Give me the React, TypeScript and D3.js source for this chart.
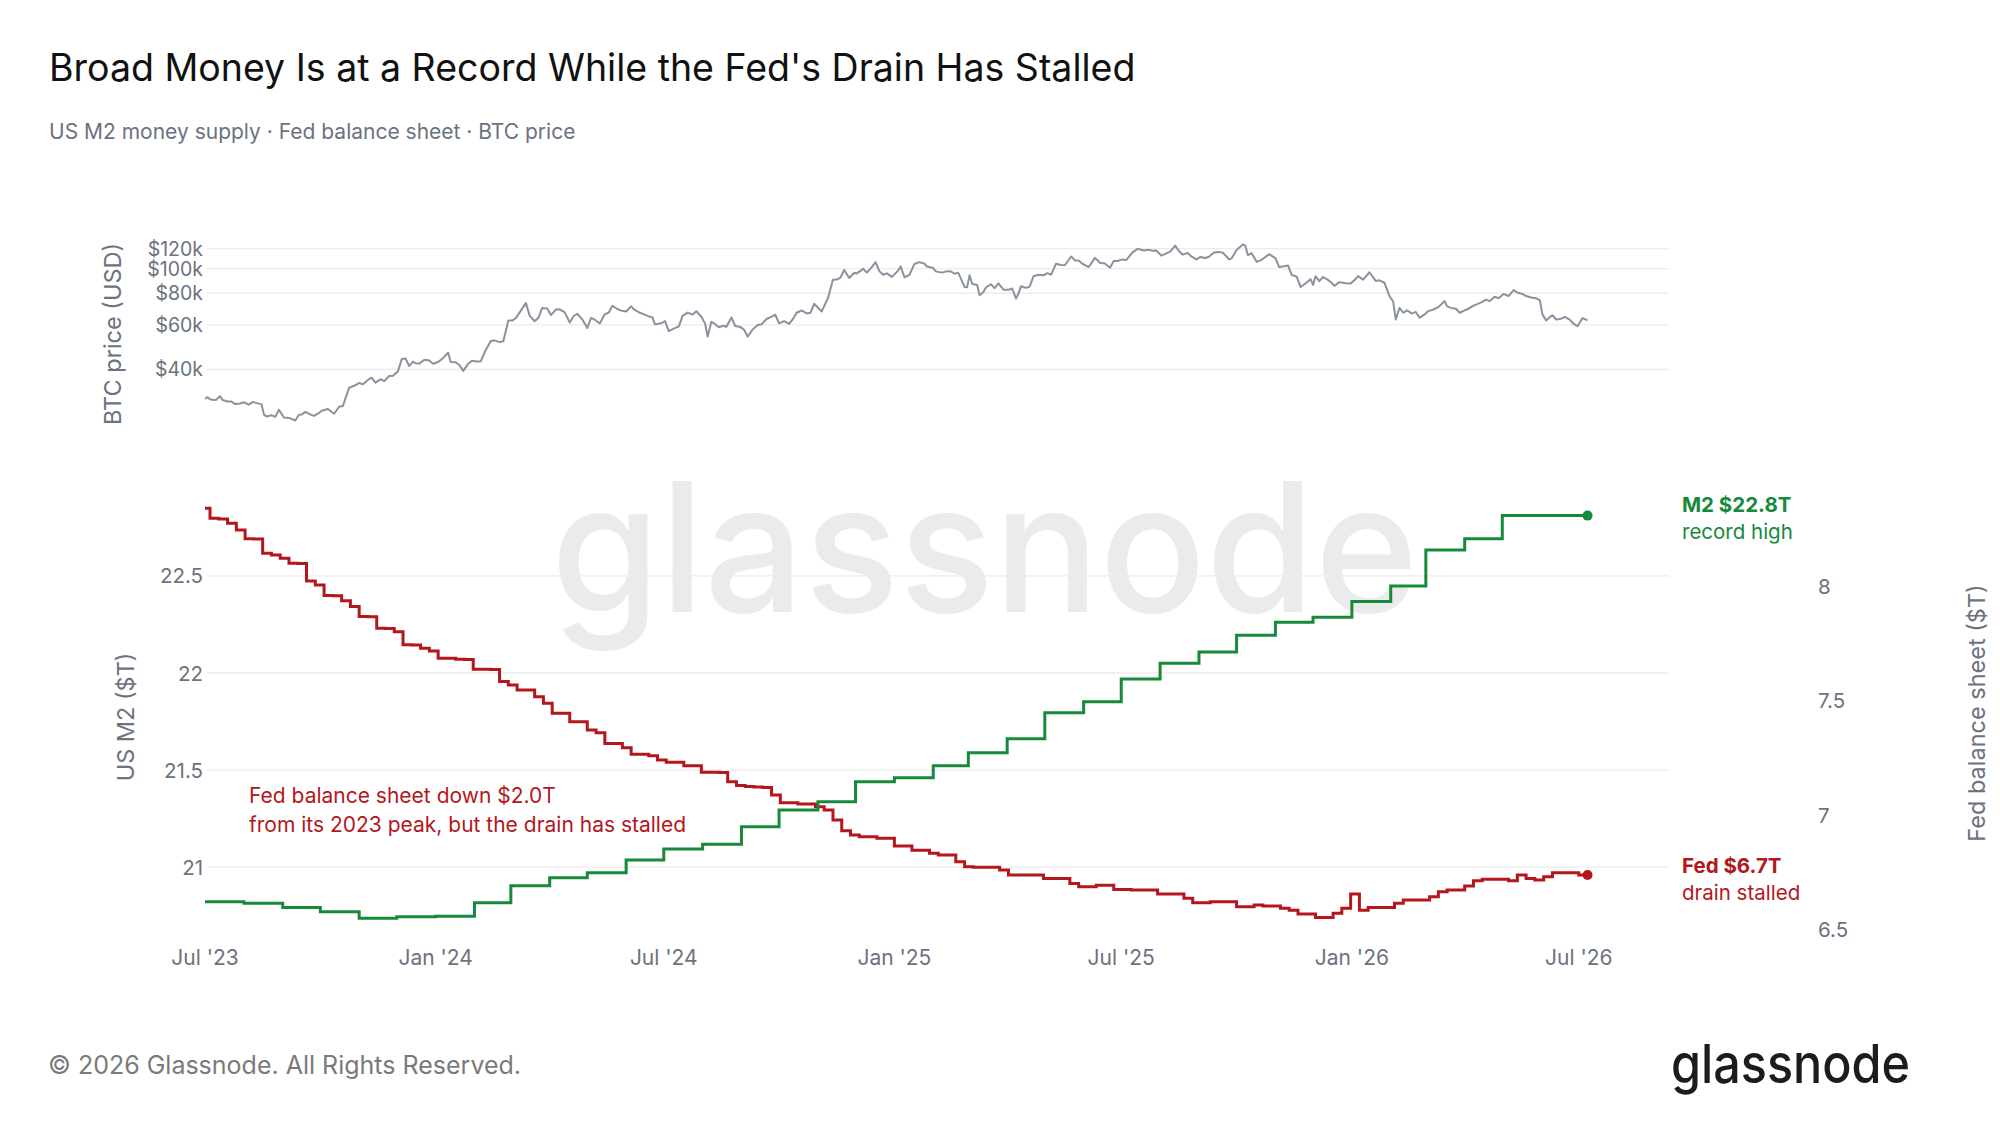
import React from "react";
import * as d3 from "d3";

// ---------- DATA ----------
const btcTicks = [40000, 60000, 80000, 100000, 120000];
const m2Ticks = [21, 21.5, 22, 22.5];
const fedTicks = [6.5, 7, 7.5, 8];
const xTickDates = ["2023-07-01", "2024-01-01", "2024-07-01", "2025-01-01", "2025-07-01", "2026-01-01", "2026-07-01"];

const domainStart = "2023-07-01";
const domainEnd = "2026-09-11";
const endDate = "2026-07-08";

// US M2 ($T), monthly from Jul 2023
const m2Start = "2023-07-01";
const m2Values = [
  20.821, 20.813, 20.792, 20.77, 20.736, 20.744,
  20.746, 20.816, 20.904, 20.945, 20.971, 21.036,
  21.093, 21.118, 21.208, 21.294, 21.337, 21.44,
  21.46, 21.522, 21.589, 21.661, 21.795, 21.852,
  21.969, 22.05, 22.108, 22.194, 22.261, 22.287,
  22.368, 22.448, 22.634, 22.692, 22.811, 22.811,
];

// Fed balance sheet ($T), weekly from 2023-06-28
const fedStart = "2023-06-28";
const fedValues = [
  8.345, 8.301, 8.298, 8.279, 8.25, 8.211, 8.21, 8.148, 8.14, 8.126,
  8.104, 8.103, 8.026, 8.009, 7.962, 7.961, 7.939, 7.914, 7.87, 7.869,
  7.819, 7.818, 7.804, 7.746, 7.745, 7.731, 7.719, 7.687, 7.687, 7.683,
  7.682, 7.639, 7.639, 7.638, 7.585, 7.57, 7.548, 7.548, 7.519, 7.49,
  7.446, 7.446, 7.409, 7.409, 7.373, 7.361, 7.314, 7.314, 7.295, 7.266,
  7.266, 7.26, 7.241, 7.231, 7.231, 7.216, 7.216, 7.187, 7.187, 7.186,
  7.146, 7.129, 7.125, 7.123, 7.121, 7.088, 7.054, 7.054, 7.048, 7.048,
  7.036, 7.022, 6.978, 6.931, 6.912, 6.905, 6.905, 6.898, 6.898, 6.864,
  6.864, 6.846, 6.846, 6.832, 6.825, 6.825, 6.795, 6.773, 6.771, 6.771,
  6.771, 6.759, 6.737, 6.737, 6.737, 6.737, 6.722, 6.722, 6.722, 6.7,
  6.686, 6.686, 6.692, 6.692, 6.674, 6.674, 6.671, 6.671, 6.671, 6.654,
  6.654, 6.654, 6.635, 6.615, 6.615, 6.62, 6.62, 6.62, 6.598, 6.598,
  6.605, 6.601, 6.601, 6.591, 6.583, 6.566, 6.566, 6.551, 6.551, 6.569,
  6.591, 6.654, 6.583, 6.595, 6.595, 6.595, 6.613, 6.627, 6.627, 6.627,
  6.642, 6.664, 6.671, 6.671, 6.689, 6.712, 6.718, 6.718, 6.718, 6.712,
  6.737, 6.722, 6.715, 6.729, 6.747, 6.747, 6.747, 6.737,
];

// BTC price (USD)
const btcSeries: [string, number][] = [
  ["2023-07-01", 30600], ["2023-07-03", 31100], ["2023-07-05", 30500], ["2023-07-08", 30290],
  ["2023-07-10", 30400], ["2023-07-13", 31400], ["2023-07-15", 30300], ["2023-07-19", 29900],
  ["2023-07-22", 29900], ["2023-07-25", 29200], ["2023-07-29", 29350], ["2023-08-01", 29700],
  ["2023-08-05", 29050], ["2023-08-08", 29800], ["2023-08-12", 29400], ["2023-08-15", 29200],
  ["2023-08-17", 26600], ["2023-08-19", 26100], ["2023-08-23", 26400], ["2023-08-26", 26000],
  ["2023-08-29", 27700], ["2023-09-02", 25850], ["2023-09-06", 25750], ["2023-09-11", 25150],
  ["2023-09-14", 26500], ["2023-09-16", 26550], ["2023-09-19", 27200], ["2023-09-23", 26580],
  ["2023-09-26", 26250], ["2023-09-30", 26960], ["2023-10-02", 27500], ["2023-10-07", 27950],
  ["2023-10-12", 26750], ["2023-10-16", 28500], ["2023-10-19", 28700], ["2023-10-24", 33900],
  ["2023-10-28", 34500], ["2023-11-01", 35400], ["2023-11-04", 35000], ["2023-11-09", 36700],
  ["2023-11-11", 37100], ["2023-11-14", 35500], ["2023-11-18", 36600], ["2023-11-21", 36000],
  ["2023-11-25", 37700], ["2023-11-28", 37800], ["2023-12-02", 39400], ["2023-12-05", 44000],
  ["2023-12-08", 44200], ["2023-12-11", 41300], ["2023-12-14", 43000], ["2023-12-16", 42300],
  ["2023-12-19", 42200], ["2023-12-23", 43700], ["2023-12-27", 43400], ["2023-12-30", 42150],
  ["2024-01-03", 42800], ["2024-01-06", 43950], ["2024-01-11", 46600], ["2024-01-13", 42850],
  ["2024-01-17", 42700], ["2024-01-20", 41650], ["2024-01-23", 39500], ["2024-01-27", 42120],
  ["2024-01-30", 43300], ["2024-02-03", 43000], ["2024-02-06", 43100], ["2024-02-10", 47800],
  ["2024-02-14", 51800], ["2024-02-17", 52100], ["2024-02-21", 51300], ["2024-02-24", 51700],
  ["2024-02-28", 62500], ["2024-03-02", 62400], ["2024-03-05", 63800], ["2024-03-09", 68300],
  ["2024-03-13", 73100], ["2024-03-16", 65300], ["2024-03-20", 62000], ["2024-03-23", 64000],
  ["2024-03-26", 70000], ["2024-03-30", 69700], ["2024-04-02", 65600], ["2024-04-06", 69000],
  ["2024-04-09", 69100], ["2024-04-13", 67200], ["2024-04-17", 61300], ["2024-04-20", 64900],
  ["2024-04-23", 66400], ["2024-04-27", 63100], ["2024-05-01", 58300], ["2024-05-04", 63900],
  ["2024-05-07", 62900], ["2024-05-11", 60800], ["2024-05-15", 66200], ["2024-05-18", 67000],
  ["2024-05-21", 71400], ["2024-05-25", 69300], ["2024-05-28", 68300], ["2024-06-01", 67800],
  ["2024-06-05", 71000], ["2024-06-07", 69300], ["2024-06-11", 67300], ["2024-06-15", 66200],
  ["2024-06-18", 65100], ["2024-06-22", 64200], ["2024-06-24", 60300], ["2024-06-29", 60900],
  ["2024-07-02", 62100], ["2024-07-05", 56700], ["2024-07-09", 58000], ["2024-07-13", 59200],
  ["2024-07-16", 65100], ["2024-07-20", 67100], ["2024-07-24", 65900], ["2024-07-27", 67900],
  ["2024-07-31", 64600], ["2024-08-03", 60700], ["2024-08-05", 54000], ["2024-08-08", 61700],
  ["2024-08-10", 60900], ["2024-08-14", 58700], ["2024-08-17", 59500], ["2024-08-20", 59000],
  ["2024-08-24", 64200], ["2024-08-27", 59400], ["2024-08-31", 58900], ["2024-09-03", 57500],
  ["2024-09-06", 53900], ["2024-09-10", 57600], ["2024-09-14", 60000], ["2024-09-17", 60300],
  ["2024-09-21", 63300], ["2024-09-24", 64300], ["2024-09-28", 65800], ["2024-10-01", 60800],
  ["2024-10-05", 62100], ["2024-10-09", 60600], ["2024-10-12", 63200], ["2024-10-15", 67000],
  ["2024-10-19", 68400], ["2024-10-23", 66600], ["2024-10-26", 67000], ["2024-10-29", 72700],
  ["2024-11-02", 69300], ["2024-11-04", 67800], ["2024-11-09", 76500], ["2024-11-13", 90400],
  ["2024-11-16", 90600], ["2024-11-19", 92300], ["2024-11-22", 98900], ["2024-11-26", 91900],
  ["2024-11-30", 96400], ["2024-12-02", 95800], ["2024-12-05", 98000], ["2024-12-07", 99900],
  ["2024-12-10", 96600], ["2024-12-14", 101400], ["2024-12-17", 106100], ["2024-12-20", 97800],
  ["2024-12-23", 94700], ["2024-12-26", 95800], ["2024-12-30", 92800], ["2025-01-04", 98300],
  ["2025-01-06", 102100], ["2025-01-09", 92500], ["2025-01-13", 94500], ["2025-01-17", 104400],
  ["2025-01-21", 106100], ["2025-01-25", 104700], ["2025-01-27", 102000], ["2025-02-01", 100600],
  ["2025-02-03", 97600], ["2025-02-08", 96500], ["2025-02-12", 97800], ["2025-02-15", 97500],
  ["2025-02-18", 95500], ["2025-02-21", 96300], ["2025-02-26", 84700], ["2025-02-28", 84400],
  ["2025-03-02", 94200], ["2025-03-04", 87200], ["2025-03-08", 86200], ["2025-03-10", 78600],
  ["2025-03-13", 80900], ["2025-03-15", 84300], ["2025-03-19", 86800], ["2025-03-22", 83800],
  ["2025-03-25", 87500], ["2025-03-29", 82600], ["2025-04-02", 82500], ["2025-04-05", 83500],
  ["2025-04-08", 76300], ["2025-04-10", 79600], ["2025-04-12", 85300], ["2025-04-16", 84000],
  ["2025-04-19", 85100], ["2025-04-22", 93400], ["2025-04-26", 94600], ["2025-04-30", 94200],
  ["2025-05-03", 96000], ["2025-05-06", 94700], ["2025-05-10", 104600], ["2025-05-14", 103500],
  ["2025-05-17", 103200], ["2025-05-22", 111700], ["2025-05-25", 107800], ["2025-05-28", 107800],
  ["2025-05-31", 104600], ["2025-06-05", 101500], ["2025-06-10", 110300], ["2025-06-14", 105500],
  ["2025-06-18", 104800], ["2025-06-22", 100900], ["2025-06-25", 107300], ["2025-06-28", 107300],
  ["2025-07-02", 108800], ["2025-07-05", 108200], ["2025-07-10", 116000], ["2025-07-14", 119800],
  ["2025-07-16", 119000], ["2025-07-19", 117900], ["2025-07-23", 118700], ["2025-07-26", 117600],
  ["2025-07-29", 117900], ["2025-08-02", 112600], ["2025-08-06", 115000], ["2025-08-09", 116700],
  ["2025-08-13", 123300], ["2025-08-16", 117400], ["2025-08-19", 113600], ["2025-08-23", 115400],
  ["2025-08-26", 111800], ["2025-08-30", 108800], ["2025-09-02", 111200], ["2025-09-06", 110200],
  ["2025-09-09", 111500], ["2025-09-13", 115900], ["2025-09-17", 116500], ["2025-09-20", 115700],
  ["2025-09-25", 109000], ["2025-09-27", 109600], ["2025-10-01", 118600], ["2025-10-06", 124700],
  ["2025-10-08", 123300], ["2025-10-10", 113200], ["2025-10-13", 115200], ["2025-10-17", 106400],
  ["2025-10-21", 108400], ["2025-10-27", 114100], ["2025-11-01", 110100], ["2025-11-04", 101500],
  ["2025-11-08", 102300], ["2025-11-11", 103000], ["2025-11-14", 94500], ["2025-11-18", 92900],
  ["2025-11-21", 84700], ["2025-11-25", 87400], ["2025-11-29", 90900], ["2025-12-01", 86300],
  ["2025-12-03", 93400], ["2025-12-06", 89300], ["2025-12-09", 92700], ["2025-12-13", 90300],
  ["2025-12-16", 87800], ["2025-12-18", 85500], ["2025-12-22", 88500], ["2025-12-27", 87600],
  ["2025-12-31", 87500], ["2026-01-03", 90000], ["2026-01-06", 93500], ["2026-01-10", 90500],
  ["2026-01-15", 96800], ["2026-01-20", 89500], ["2026-01-23", 90000], ["2026-01-27", 88000],
  ["2026-01-31", 78000], ["2026-02-03", 74000], ["2026-02-05", 63000], ["2026-02-08", 70000],
  ["2026-02-11", 67000], ["2026-02-14", 68500], ["2026-02-18", 66500], ["2026-02-21", 67500],
  ["2026-02-24", 64000], ["2026-02-28", 66000], ["2026-03-03", 68000], ["2026-03-07", 69000],
  ["2026-03-11", 70500], ["2026-03-16", 74500], ["2026-03-18", 71000], ["2026-03-21", 70000],
  ["2026-03-25", 69500], ["2026-03-28", 67000], ["2026-04-01", 68500], ["2026-04-04", 69500],
  ["2026-04-08", 71500], ["2026-04-11", 72500], ["2026-04-15", 74000], ["2026-04-18", 75500],
  ["2026-04-21", 74500], ["2026-04-25", 77500], ["2026-04-28", 76500], ["2026-05-02", 79500],
  ["2026-05-06", 78000], ["2026-05-10", 82300], ["2026-05-13", 80500], ["2026-05-17", 79500],
  ["2026-05-20", 78000], ["2026-05-24", 77000], ["2026-05-28", 76500], ["2026-05-31", 75000],
  ["2026-06-02", 66000], ["2026-06-05", 62500], ["2026-06-08", 64500], ["2026-06-10", 65500],
  ["2026-06-13", 63000], ["2026-06-17", 63500], ["2026-06-20", 64500], ["2026-06-24", 62800],
  ["2026-06-27", 60500], ["2026-06-30", 59300], ["2026-07-04", 63800], ["2026-07-08", 62500],
];

// ---------- STYLE ----------
const FONT = "Inter, 'Noto Sans', 'DejaVu Sans', sans-serif";
const GREEN = "#168a3a";
const RED = "#b3171c";
const BTC_GRAY = "#8b929e";
const AXIS_GRAY = "#6b7280";
const GRID = "#ececec";

const parse = d3.utcParse("%Y-%m-%d");

export default function App() {
  const W = 2000;
  const H = 1125;
  const left = 205;
  const right = 1669;

  const x = d3.scaleUtc().domain([parse(domainStart)!, parse(domainEnd)!]).range([left, right]);
  const yBtc = d3.scaleLog().domain([24150, 129800]).range([425, 240]);
  const yM2 = d3.scaleLinear().domain([20.65, 22.943]).range([935, 490]);
  const yFed = d3.scaleLinear().domain([6.474, 8.425]).range([935, 490]);

  const end = parse(endDate)!;
  const m2Data = m2Values.map((v, i) => ({ d: d3.utcMonth.offset(parse(m2Start)!, i), v }));
  m2Data.push({ d: end, v: m2Values[m2Values.length - 1] });
  const fedData = fedValues.map((v, i) => ({ d: d3.utcDay.offset(parse(fedStart)!, 7 * i), v }));
  fedData.push({ d: end, v: fedValues[fedValues.length - 1] });
  const btcData = btcSeries.map(([d, v]) => ({ d: parse(d)!, v }));

  const m2Line = d3.line<{ d: Date; v: number }>().x((p) => x(p.d)).y((p) => yM2(p.v)).curve(d3.curveStepAfter);
  const fedLine = d3.line<{ d: Date; v: number }>().x((p) => x(p.d)).y((p) => yFed(p.v)).curve(d3.curveStepAfter);
  const btcLine = d3.line<{ d: Date; v: number }>().x((p) => x(p.d)).y((p) => yBtc(p.v)).curve(d3.curveLinear);

  const fmtX = d3.utcFormat("%b '%y");
  const m2Last = m2Values[m2Values.length - 1];
  const fedLast = fedValues[fedValues.length - 1];

  return (
    <div style={{ position: "absolute", left: 0, top: 0, width: W, height: H, background: "#fff" }}>
      <svg width={W} height={H} style={{ display: "block", fontFamily: FONT }}>
        <defs>
          <clipPath id="plotClip">
            <rect x={left} y={200} width={right - left} height={760} />
          </clipPath>
        </defs>
        <rect width={W} height={H} fill="#fff" />

        {/* watermark */}
        <text x={551} y={612} fontSize={180} fontWeight={500} fill="#ebebeb" textLength={867} lengthAdjust="spacingAndGlyphs">
          glassnode
        </text>

        {/* title */}
        <text x={49} y={81} fontSize={37.5} fill="#111" fontWeight={400}>
          Broad Money Is at a Record While the Fed's Drain Has Stalled
        </text>
        <text x={49} y={139} fontSize={21} fill={AXIS_GRAY}>
          US M2 money supply · Fed balance sheet · BTC price
        </text>

        {/* BTC panel grid */}
        {btcTicks.map((t) => (
          <g key={"b" + t}>
            <line x1={207} x2={right} y1={yBtc(t)} y2={yBtc(t)} stroke={GRID} strokeWidth={1.3} />
            <text x={203} y={yBtc(t)} fontSize={19.5} fill={AXIS_GRAY} textAnchor="end" dominantBaseline="central">
              {"$" + t / 1000 + "k"}
            </text>
          </g>
        ))}
        <text transform={`translate(112,334) rotate(-90)`} fontSize={23.5} fill={AXIS_GRAY} textAnchor="middle" dominantBaseline="central">
          BTC price (USD)
        </text>

        {/* lower panel grid */}
        {m2Ticks.map((t) => (
          <g key={"m" + t}>
            <line x1={207} x2={right} y1={yM2(t)} y2={yM2(t)} stroke={GRID} strokeWidth={1.3} />
            <text x={203} y={yM2(t)} fontSize={20.5} fill={AXIS_GRAY} textAnchor="end" dominantBaseline="central">
              {String(t)}
            </text>
          </g>
        ))}
        {fedTicks.map((t) => (
          <text key={"f" + t} x={1818} y={yFed(t)} fontSize={20.5} fill={AXIS_GRAY} textAnchor="start" dominantBaseline="central">
            {String(t)}
          </text>
        ))}
        <text transform={`translate(125,717) rotate(-90)`} fontSize={23.5} fill={AXIS_GRAY} textAnchor="middle" dominantBaseline="central">
          US M2 ($T)
        </text>
        <text transform={`translate(1976,713) rotate(-90)`} fontSize={23.5} fill={AXIS_GRAY} textAnchor="middle" dominantBaseline="central">
          Fed balance sheet ($T)
        </text>

        {/* x axis */}
        {xTickDates.map((s) => (
          <text key={s} x={x(parse(s)!)} y={957} fontSize={21} fill={AXIS_GRAY} textAnchor="middle" dominantBaseline="central">
            {fmtX(parse(s)!)}
          </text>
        ))}

        {/* series */}
        <g clipPath="url(#plotClip)">
          <path d={btcLine(btcData) || ""} fill="none" stroke={BTC_GRAY} strokeWidth={2} strokeLinejoin="round" />
          <path d={fedLine(fedData) || ""} fill="none" stroke={RED} strokeWidth={3} />
          <path d={m2Line(m2Data) || ""} fill="none" stroke={GREEN} strokeWidth={3} />
        </g>
        <circle cx={x(end)} cy={yM2(m2Last)} r={5} fill={GREEN} />
        <circle cx={x(end)} cy={yFed(fedLast)} r={5} fill={RED} />

        {/* annotations */}
        <text x={249} y={795} fontSize={21} fill={RED} dominantBaseline="central">
          Fed balance sheet down $2.0T
        </text>
        <text x={249} y={824} fontSize={21} fill={RED} dominantBaseline="central">
          from its 2023 peak, but the drain has stalled
        </text>
        <text x={1682} y={504} fontSize={20.5} fontWeight={700} fill={GREEN} dominantBaseline="central">
          {"M2 $" + m2Last.toFixed(1) + "T"}
        </text>
        <text x={1682} y={531} fontSize={20.5} fill={GREEN} dominantBaseline="central">
          record high
        </text>
        <text x={1682} y={865} fontSize={20.5} fontWeight={700} fill={RED} dominantBaseline="central">
          {"Fed $" + fedLast.toFixed(1) + "T"}
        </text>
        <text x={1682} y={892} fontSize={20.5} fill={RED} dominantBaseline="central">
          drain stalled
        </text>

        {/* footer */}
        <text x={48} y={1074} fontSize={25} fill="#7a7a7a">
          © 2026 Glassnode. All Rights Reserved.
        </text>
        <text x={1671} y={1083} fontSize={54} fontWeight={500} fill="#1c1c1c" textLength={239} lengthAdjust="spacingAndGlyphs">
          glassnode
        </text>
      </svg>
    </div>
  );
}
